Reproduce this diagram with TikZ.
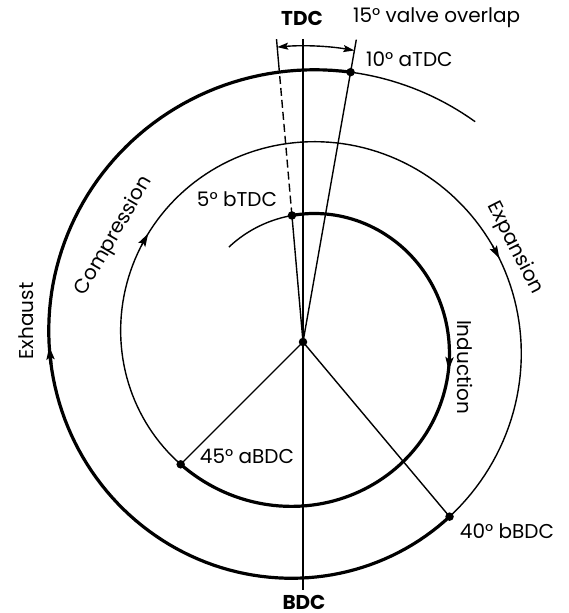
\documentclass[tikz,border=0pt]{standalone}
\usepackage{fontspec}
\setmainfont{Poppins}
\usetikzlibrary{arrows.meta,calc}
\begin{document}
\begin{tikzpicture}[x=1pt,y=1pt,
  declare function={rr(\p)=128+0.2*\p;},
  thinline/.style={line width=1.4pt},
  thickline/.style={line width=3.2pt},
  dot/.style={circle,fill=black,inner sep=0pt,minimum size=8.5pt},
  lab/.style={font=\fontsize{20}{22}\selectfont,inner sep=0pt},
  blab/.style={font=\fontsize{20}{22}\selectfont\bfseries,inner sep=0pt},
  tip/.style={-{Stealth[length=13pt,width=8pt,inset=2.5pt]}},
  dtip/.style={{Stealth[length=11pt,width=7pt,inset=2pt]}-{Stealth[length=11pt,width=7pt,inset=2pt]}}]
\useasboundingbox (0,0) rectangle (568,613);
\coordinate (O) at (303,271);
% spiral
\draw[thinline] plot[domain=-38:-5,samples=20,variable=\p] ({303+rr(\p)*sin(\p)},{271+rr(\p)*cos(\p)});
\draw[thickline] plot[domain=-5:225,samples=120,variable=\p] ({303+rr(\p)*sin(\p)},{271+rr(\p)*cos(\p)});
\draw[thinline] plot[domain=225:500,samples=140,variable=\p] ({303+rr(\p)*sin(\p)},{271+rr(\p)*cos(\p)});
\draw[thickline] plot[domain=500:730,samples=120,variable=\p] ({303+rr(\p)*sin(\p)},{271+rr(\p)*cos(\p)});
\draw[thinline] plot[domain=730:758,samples=20,variable=\p] ({303+rr(\p)*sin(\p)},{271+rr(\p)*cos(\p)});
% key points
\coordinate (pB) at ({303+rr(-5)*sin(-5)},{271+rr(-5)*cos(-5)});
\coordinate (pA) at ({303+rr(730)*sin(730)},{271+rr(730)*cos(730)});
\coordinate (pC) at ({303+rr(225)*sin(225)},{271+rr(225)*cos(225)});
\coordinate (pD) at ({303+rr(500)*sin(500)},{271+rr(500)*cos(500)});
\coordinate (pOut) at ({303+rr(715)*sin(715)},{271+rr(715)*cos(715)});
\coordinate (topA) at ($(O)+(80:307)$);
\coordinate (topB) at ($(O)+(95:304)$);
\coordinate (tdcTop) at (303,574);
\coordinate (bdcBot) at (303,23);
% radial lines
\draw[thinline] (tdcTop) -- (bdcBot);
\draw[thinline] (O) -- (topA);
\draw[thinline] (O) -- (pB);
\draw[thinline,dash pattern=on 8pt off 4pt] (pB) -- (pOut);
\draw[thinline] (pOut) -- (topB);
\draw[thinline] (O) -- (pC);
\draw[thinline] (O) -- (pD);
% overlap arrow
\draw[thinline,dtip] ($(O)+(95:296)$) arc[start angle=95,end angle=80,radius=296];
% direction arrows
\foreach \q/\w in {101/3.2pt,305/1.4pt,427/1.4pt,629/3.2pt}{
  \draw[line width=\w,tip] ({303+rr(\q-4)*sin(\q-4)},{271+rr(\q-4)*cos(\q-4)}) -- ({303+rr(\q)*sin(\q)},{271+rr(\q)*cos(\q)});
}
% dots
\node[dot] (O0) at (O) {};
\node[dot] (dB) at (pB) {};
\node[dot] (dA) at (pA) {};
\node[dot] (dC) at (pC) {};
\node[dot] (dD) at (pD) {};
% labels
\node[blab] (tdc) at (302,595) {TDC};
\node[lab,anchor=west] (ovl) at (353,595) {15° valve overlap};
\node[lab,anchor=west] (la) at (366,554) {10° aTDC};
\node[lab] (lb) at (237,414) {5° bTDC};
\node[lab,rotate=60] (comp) at (114,377) {Compression};
\node[lab,rotate=90] (exh) at (26,292) {Exhaust};
\node[lab,rotate=-63] (exp) at (515,365) {Expansion};
\node[lab,rotate=-90] (ind) at (465,246) {Induction};
\node[lab] (lc) at (247,157) {45° aBDC};
\node[lab] (ld) at (507,82) {40° bBDC};
\node[blab,anchor=base] (bdc) at (304,3) {BDC};
\end{tikzpicture}
\end{document}
